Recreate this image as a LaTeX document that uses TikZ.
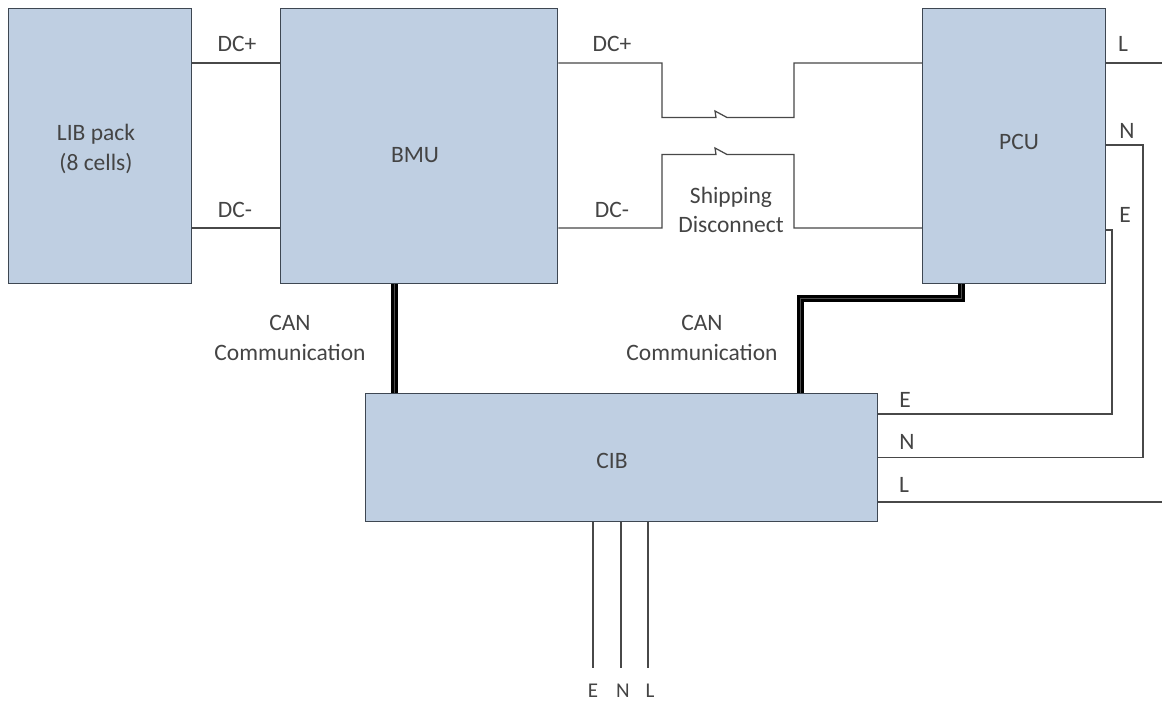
\documentclass[tikz,border=0pt]{standalone}
\usepackage{fontspec}
\setmainfont{Carlito}
\definecolor{boxfill}{HTML}{BFCFE2}
\definecolor{boxline}{HTML}{3E4752}
\definecolor{wirecol}{HTML}{484848}
\definecolor{txt}{HTML}{444444}
\tikzset{
  block/.style={draw=boxline,fill=boxfill,line width=1.4pt,inner sep=0pt,anchor=north west},
  wire/.style={draw=wirecol,line width=1.25pt,line join=miter},
  canbus/.style={draw=black,line width=7pt,line join=miter},
  canin/.style={draw=gray!60!black,line width=0.8pt,line join=miter},
  lab/.style={text=txt,font=\fontsize{23.5}{29.5}\selectfont,align=center,inner sep=0pt},
  lowlab/.style={lab,font=\fontsize{21}{26}\selectfont}
}
\begin{document}
\begin{tikzpicture}[x=1pt,y=-1pt]
\useasboundingbox[fill=white] (0,0) rectangle (1162,704);
\node[block,minimum width=183pt,minimum height=275pt] (lib) at (8,8) {};
\node[block,minimum width=277pt,minimum height=275pt] (bmu) at (280,8) {};
\node[block,minimum width=183pt,minimum height=275pt] (pcu) at (922,8) {};
\node[block,minimum width=512pt,minimum height=128pt] (cib) at (365,393) {};
\coordinate (rL) at (1162,63);
\coordinate (rCL) at (1162,502);
\coordinate (oE) at (593,668);
\coordinate (oN) at (621,668);
\coordinate (oL) at (648,668);
% DC links
\draw[wire] (lib.east|-0,63) -- (bmu.west|-0,63);
\draw[wire] (lib.east|-0,228) -- (bmu.west|-0,228);
\draw[wire] (bmu.east|-0,63) -- (662,63) -- (662,117.5) -- (716,117.5) -- (715,111) -- (727,117.5) -- (794,117.5) -- (794,63) -- (pcu.west|-0,63);
\draw[wire] (bmu.east|-0,228) -- (662,228) -- (662,154.5) -- (716,154.5) -- (715,148) -- (727,154.5) -- (794,154.5) -- (794,228) -- (pcu.west|-0,228);
% AC
\draw[wire] (pcu.east|-0,63) -- (rL);
\draw[wire] (pcu.east|-0,145) -- (1143,145) -- (1143,457.5) -- (cib.east|-0,457.5);
\draw[wire] (pcu.east|-0,230) -- (1112,230) -- (1112,414) -- (cib.east|-0,414);
\draw[wire] (cib.east|-rCL) -- (rCL);
\draw[wire] (cib.south-|oE) -- (oE);
\draw[wire] (cib.south-|oN) -- (oN);
\draw[wire] (cib.south-|oL) -- (oL);
% CAN
\draw[canbus] (bmu.south-|394.5,0) -- (cib.north-|394.5,0);
\draw[canin] (bmu.south-|394.5,0) -- (cib.north-|394.5,0);
\draw[canbus] (pcu.south-|961,0) -- (961,298) -- (800,298) -- (cib.north-|800,0);
\draw[canin] (pcu.south-|961,0) -- (961,298) -- (800,298) -- (cib.north-|800,0);
% box labels
\node[lab] (t1) at (96,149) {LIB pack\\(8 cells)};
\node[lab] (t2) at (415,155) {BMU};
\node[lab] (t3) at (1019,142) {PCU};
\node[lab] (t4) at (612,461) {CIB};
% labels
\node[lab] (l1) at (237,44) {DC+};
\node[lab] (l2) at (235,210) {DC-};
\node[lab] (l3) at (612,44) {DC+};
\node[lab] (l4) at (612,210) {DC-};
\node[lab] (l5) at (731,210) {Shipping\\Disconnect};
\node[lab] (l6) at (290,338) {CAN\\Communication};
\node[lab] (l7) at (702,338) {CAN\\Communication};
\node[lab] (l8) at (1123,44) {L};
\node[lab] (l9) at (1127,131) {N};
\node[lab] (l10) at (1125,215) {E};
\node[lab] (l11) at (905,400) {E};
\node[lab] (l12) at (907,442) {N};
\node[lab] (l13) at (904,485) {L};
\node[lowlab] (l14) at (593,691) {E};
\node[lowlab] (l15) at (623,691) {N};
\node[lowlab] (l16) at (650,691) {L};
\end{tikzpicture}
\end{document}
